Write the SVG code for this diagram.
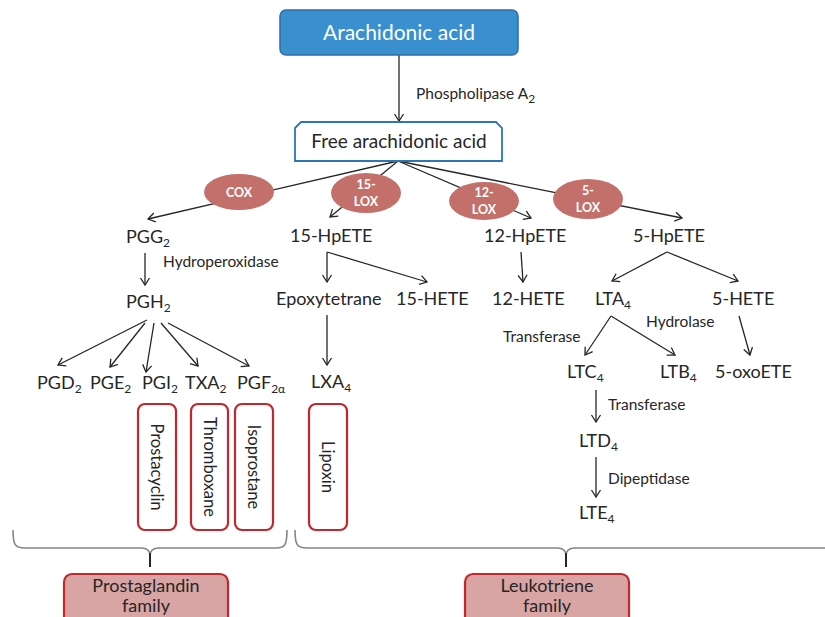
<svg xmlns="http://www.w3.org/2000/svg" width="825" height="617" viewBox="0 0 825 617">
<defs>
<marker id="ah" markerUnits="userSpaceOnUse" markerWidth="14" markerHeight="14" refX="0" refY="0" viewBox="-10 -7 12 14" orient="auto" overflow="visible">
<path d="M-7,-4.5 L0,0 L-7,4.5" fill="none" stroke="#262626" stroke-width="1.3"/>
</marker>
<style>
text{font-family:Lato,"Open Sans","Liberation Sans",sans-serif;fill:#262626}
.n{font-size:18px}
.l{font-size:15.5px}
.s{font-size:12px}
.c line{stroke:#262626;stroke-width:1.3;marker-end:url(#ah)}
.e ellipse{fill:#c3706a}
.e text{fill:#fff;font-weight:bold;font-size:12.5px;text-anchor:middle}
.v rect{fill:#fff;stroke:#c1272d;stroke-width:2.2}
.v text{font-size:16.5px;text-anchor:middle;dominant-baseline:central}
.f rect{fill:#d9a4a4;stroke:#c1272d;stroke-width:2.2}
.f text{font-size:18px;text-anchor:middle}
.br{fill:none;stroke:#858585;stroke-width:1.6}
.tip{stroke:#262626;stroke-width:2}
</style>
</defs>
<rect width="825" height="617" fill="#fff"/>

<g id="connectors" class="c">
<line x1="399" y1="55" x2="399" y2="121"/>
<line x1="398" y1="161" x2="148" y2="219"/>
<line x1="398" y1="161" x2="330" y2="217"/>
<line x1="398" y1="161" x2="531" y2="218"/>
<line x1="398" y1="161" x2="682" y2="218"/>
<line x1="145" y1="253" x2="145" y2="285"/>
<line x1="147" y1="320" x2="58" y2="365"/>
<line x1="145" y1="323" x2="110" y2="367"/>
<line x1="154" y1="323" x2="146" y2="372"/>
<line x1="161" y1="323" x2="198" y2="366"/>
<line x1="168" y1="323" x2="249" y2="366"/>
<line x1="327" y1="252" x2="327" y2="282"/>
<line x1="327" y1="252" x2="427" y2="282"/>
<line x1="327" y1="315" x2="327" y2="365"/>
<line x1="521" y1="252" x2="523" y2="282"/>
<line x1="667" y1="252" x2="612" y2="281"/>
<line x1="667" y1="252" x2="738" y2="281"/>
<line x1="611" y1="316" x2="585" y2="355"/>
<line x1="611" y1="316" x2="675" y2="355"/>
<line x1="739" y1="316" x2="750" y2="355"/>
<line x1="596" y1="390" x2="596" y2="422"/>
<line x1="596" y1="457" x2="596" y2="497"/>
</g>

<g id="arachidonic-acid">
<rect x="280" y="10" width="238" height="45" rx="6" fill="#3a8fcf" stroke="#2d6fa6" stroke-width="1.5"/>
<text x="399" y="40" font-size="21" style="fill:#fff" text-anchor="middle">Arachidonic acid</text>
</g>
<g id="lbl-pla2"><text class="l" x="416" y="99">Phospholipase A<tspan class="s" dy="4">2</tspan></text></g>

<g id="free-acid">
<path d="M295,128 L301,122 L496,122 L502,128 L502,161 L295,161 Z" fill="#fff" stroke="#2e75b6" stroke-width="1.8"/>
<text x="399" y="148" font-size="19" text-anchor="middle">Free arachidonic acid</text>
</g>

<g id="cox" class="e"><ellipse cx="239" cy="192" rx="35" ry="18"/><text x="239" y="197">COX</text></g>
<g id="lox15" class="e"><ellipse cx="366" cy="193" rx="35" ry="20"/><text x="366" y="189">15-</text><text x="366" y="206">LOX</text></g>
<g id="lox12" class="e"><ellipse cx="484" cy="201" rx="35" ry="19"/><text x="484" y="197">12-</text><text x="484" y="214">LOX</text></g>
<g id="lox5" class="e"><ellipse cx="588" cy="199" rx="35" ry="20"/><text x="588" y="195">5-</text><text x="588" y="212">LOX</text></g>

<g id="pgg2"><text class="n" x="126" y="243">PGG<tspan class="s" dy="4">2</tspan></text></g>
<g id="lbl-hydroperoxidase"><text class="l" x="163" y="267">Hydroperoxidase</text></g>
<g id="pgh2"><text class="n" x="126" y="308">PGH<tspan class="s" dy="4">2</tspan></text></g>
<g id="pgd2"><text class="n" x="37" y="389">PGD<tspan class="s" dy="4">2</tspan></text></g>
<g id="pge2"><text class="n" x="90" y="389">PGE<tspan class="s" dy="4">2</tspan></text></g>
<g id="pgi2"><text class="n" x="142" y="389">PGI<tspan class="s" dy="4">2</tspan></text></g>
<g id="txa2"><text class="n" x="185" y="389">TXA<tspan class="s" dy="4">2</tspan></text></g>
<g id="pgf2a"><text class="n" x="237" y="389">PGF<tspan class="s" dy="4">2α</tspan></text></g>

<g id="hpete15"><text class="n" x="290" y="242">15-HpETE</text></g>
<g id="hpete12"><text class="n" x="484" y="242">12-HpETE</text></g>
<g id="hpete5"><text class="n" x="633" y="242">5-HpETE</text></g>
<g id="epoxytetrane"><text class="n" x="276" y="305">Epoxytetrane</text></g>
<g id="hete15"><text class="n" x="396" y="305">15-HETE</text></g>
<g id="hete12"><text class="n" x="492" y="305">12-HETE</text></g>
<g id="lta4"><text class="n" x="595" y="305">LTA<tspan class="s" dy="4">4</tspan></text></g>
<g id="hete5"><text class="n" x="712" y="305">5-HETE</text></g>
<g id="lxa4"><text class="n" x="311" y="388">LXA<tspan class="s" dy="4">4</tspan></text></g>
<g id="lbl-transferase1"><text class="l" x="503" y="342">Transferase</text></g>
<g id="lbl-hydrolase"><text class="l" x="646" y="327">Hydrolase</text></g>
<g id="ltc4"><text class="n" x="567" y="378">LTC<tspan class="s" dy="4">4</tspan></text></g>
<g id="ltb4"><text class="n" x="660" y="378">LTB<tspan class="s" dy="4">4</tspan></text></g>
<g id="oxoete5"><text class="n" x="715" y="378">5-oxoETE</text></g>
<g id="lbl-transferase2"><text class="l" x="608" y="410">Transferase</text></g>
<g id="ltd4"><text class="n" x="579" y="447">LTD<tspan class="s" dy="4">4</tspan></text></g>
<g id="lbl-dipeptidase"><text class="l" x="608" y="484">Dipeptidase</text></g>
<g id="lte4"><text class="n" x="579" y="519">LTE<tspan class="s" dy="4">4</tspan></text></g>

<g id="prostacyclin" class="v"><rect x="138" y="404" width="38" height="126" rx="7"/><text transform="translate(157,467) rotate(90)">Prostacyclin</text></g>
<g id="thromboxane" class="v"><rect x="191" y="404" width="37" height="126" rx="7"/><text transform="translate(209.5,467) rotate(90)">Thromboxane</text></g>
<g id="isoprostane" class="v"><rect x="235" y="404" width="38" height="126" rx="7"/><text transform="translate(254,467) rotate(90)">Isoprostane</text></g>
<g id="lipoxin" class="v"><rect x="309" y="404" width="38" height="126" rx="7"/><text transform="translate(328,467) rotate(90)">Lipoxin</text></g>

<g id="brace-left">
<path class="br" d="M13,530 C13,545 15,548 25,548 L141,548 C147,548 150,550 150,556 C150,550 153,548 159,548 L276,548 C285,548 287,545 287,530"/>
<line class="tip" x1="150" y1="553" x2="150" y2="567"/>
</g>
<g id="brace-right">
<path class="br" d="M295,530 C295,545 297,548 307,548 L557,548 C563,548 566,550 566,556 C566,550 569,548 575,548 L826,548"/>
<line class="tip" x1="566" y1="553" x2="566" y2="567"/>
</g>

<g id="prostaglandin-family" class="f"><rect x="64" y="574" width="164" height="60" rx="8"/><text x="146" y="592">Prostaglandin</text><text x="146" y="612">family</text></g>
<g id="leukotriene-family" class="f"><rect x="465" y="574" width="164" height="60" rx="8"/><text x="547" y="592">Leukotriene</text><text x="547" y="612">family</text></g>
</svg>
